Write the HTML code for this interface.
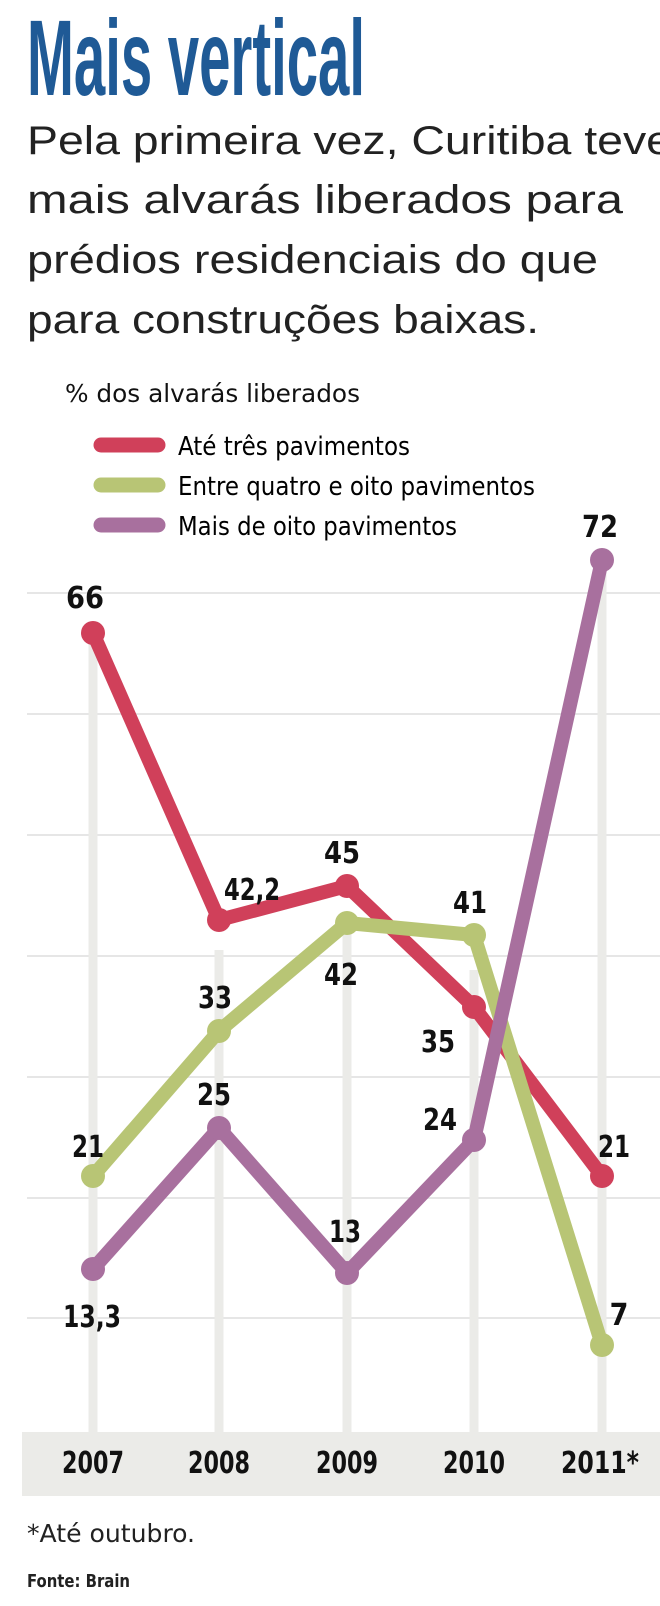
<!DOCTYPE html>
<html><head><meta charset="utf-8"><style>
html,body{margin:0;padding:0;background:#fff;}
svg{display:block;}
.t{font-family:"DejaVu Sans","Liberation Sans",sans-serif;font-stretch:condensed;}
.n{font-family:"DejaVu Sans","Liberation Sans",sans-serif;font-stretch:condensed;font-weight:bold;font-size:30px;fill:#111;text-anchor:middle;}
</style></head><body>
<svg width="660" height="1606" viewBox="0 0 660 1606" xmlns="http://www.w3.org/2000/svg">
<text x="27" y="95" font-family="Liberation Sans, sans-serif" font-weight="bold" font-size="108" fill="#1f5a96" textLength="338" lengthAdjust="spacingAndGlyphs">Mais vertical</text>
<g font-family="Liberation Sans, sans-serif" font-size="40" fill="#222">
<text x="27" y="154" textLength="645" lengthAdjust="spacingAndGlyphs">Pela primeira vez, Curitiba teve</text>
<text x="27" y="213" textLength="596" lengthAdjust="spacingAndGlyphs">mais alvarás liberados para</text>
<text x="27" y="273" textLength="571" lengthAdjust="spacingAndGlyphs">prédios residenciais do que</text>
<text x="27" y="333" textLength="512" lengthAdjust="spacingAndGlyphs">para construções baixas.</text>
</g>
<text class="t" x="65" y="402" font-size="25" fill="#111" textLength="295" lengthAdjust="spacingAndGlyphs">% dos alvarás liberados</text>
<g stroke-width="15" stroke-linecap="round">
<line x1="101" y1="445" x2="158" y2="445" stroke="#d0405a"/>
<line x1="101" y1="485" x2="158" y2="485" stroke="#b8c575"/>
<line x1="101" y1="525" x2="158" y2="525" stroke="#a8709e"/>
</g>
<g class="t" font-size="26" fill="#000">
<text x="178" y="455" textLength="232" lengthAdjust="spacingAndGlyphs">Até três pavimentos</text>
<text x="178" y="495" textLength="357" lengthAdjust="spacingAndGlyphs">Entre quatro e oito pavimentos</text>
<text x="178" y="535" textLength="279" lengthAdjust="spacingAndGlyphs">Mais de oito pavimentos</text>
</g>
<g stroke="#e6e6e6" stroke-width="2">
<line x1="27" y1="593" x2="660" y2="593"/><line x1="27" y1="714" x2="660" y2="714"/>
<line x1="27" y1="835" x2="660" y2="835"/><line x1="27" y1="956" x2="660" y2="956"/>
<line x1="27" y1="1077" x2="660" y2="1077"/><line x1="27" y1="1198" x2="660" y2="1198"/>
<line x1="27" y1="1318" x2="660" y2="1318"/>
</g>
<g stroke="#ebebe8" stroke-width="9">
<line x1="93" y1="633" x2="93" y2="1432"/><line x1="219" y1="950" x2="219" y2="1432"/>
<line x1="347" y1="925" x2="347" y2="1432"/><line x1="474" y1="970" x2="474" y2="1432"/>
<line x1="602" y1="560" x2="602" y2="1432"/>
</g>
<rect x="22" y="1432" width="638" height="64" fill="#ebebe8"/>
<g fill="none" stroke-width="14" stroke-linejoin="round" stroke-linecap="round">
<polyline stroke="#d0405a" points="93,633 219,920 347,886 474,1007 602,1176"/>
<polyline stroke="#b8c575" points="93,1176 219,1031 347,923 474,935 602,1345"/>
<polyline stroke="#a8709e" points="93,1269 219,1128 347,1273 474,1140 602,560"/>
</g>
<g fill="#d0405a"><circle cx="93" cy="633" r="12"/><circle cx="219" cy="920" r="12"/><circle cx="347" cy="886" r="12"/><circle cx="474" cy="1007" r="12"/><circle cx="602" cy="1176" r="12"/></g>
<g fill="#b8c575"><circle cx="93" cy="1176" r="12"/><circle cx="219" cy="1031" r="12"/><circle cx="347" cy="923" r="12"/><circle cx="474" cy="935" r="12"/><circle cx="602" cy="1345" r="12"/></g>
<g fill="#a8709e"><circle cx="93" cy="1269" r="12"/><circle cx="219" cy="1128" r="12"/><circle cx="347" cy="1273" r="12"/><circle cx="474" cy="1140" r="12"/><circle cx="602" cy="560" r="12"/></g>
<g class="n">
<text x="85" y="608" textLength="38" lengthAdjust="spacingAndGlyphs">66</text><text x="600" y="537" textLength="36" lengthAdjust="spacingAndGlyphs">72</text>
<text x="252" y="900" textLength="56" lengthAdjust="spacingAndGlyphs">42,2</text><text x="342" y="863" textLength="36" lengthAdjust="spacingAndGlyphs">45</text><text x="470" y="913" textLength="34" lengthAdjust="spacingAndGlyphs">41</text>
<text x="215" y="1008" textLength="34" lengthAdjust="spacingAndGlyphs">33</text><text x="341" y="985" textLength="34" lengthAdjust="spacingAndGlyphs">42</text><text x="438" y="1052" textLength="34" lengthAdjust="spacingAndGlyphs">35</text>
<text x="214" y="1105" textLength="34" lengthAdjust="spacingAndGlyphs">25</text><text x="440" y="1130" textLength="34" lengthAdjust="spacingAndGlyphs">24</text>
<text x="88" y="1157" textLength="32" lengthAdjust="spacingAndGlyphs">21</text><text x="614" y="1157" textLength="32" lengthAdjust="spacingAndGlyphs">21</text>
<text x="345" y="1242" textLength="32" lengthAdjust="spacingAndGlyphs">13</text><text x="92" y="1327" textLength="58" lengthAdjust="spacingAndGlyphs">13,3</text><text x="619" y="1325">7</text>
</g>
<g class="n" font-size="27">
<text x="93" y="1473" textLength="62" lengthAdjust="spacingAndGlyphs">2007</text><text x="219" y="1473" textLength="62" lengthAdjust="spacingAndGlyphs">2008</text><text x="347" y="1473" textLength="62" lengthAdjust="spacingAndGlyphs">2009</text><text x="474" y="1473" textLength="62" lengthAdjust="spacingAndGlyphs">2010</text><text x="600" y="1473" textLength="78" lengthAdjust="spacingAndGlyphs">2011*</text>
</g>
<text class="t" x="27" y="1542" font-size="25" fill="#222" textLength="168" lengthAdjust="spacingAndGlyphs">*Até outubro.</text>
<text class="t" x="27" y="1587" font-size="18" font-weight="bold" fill="#222" textLength="103" lengthAdjust="spacingAndGlyphs">Fonte: Brain</text>
</svg>
</body></html>
